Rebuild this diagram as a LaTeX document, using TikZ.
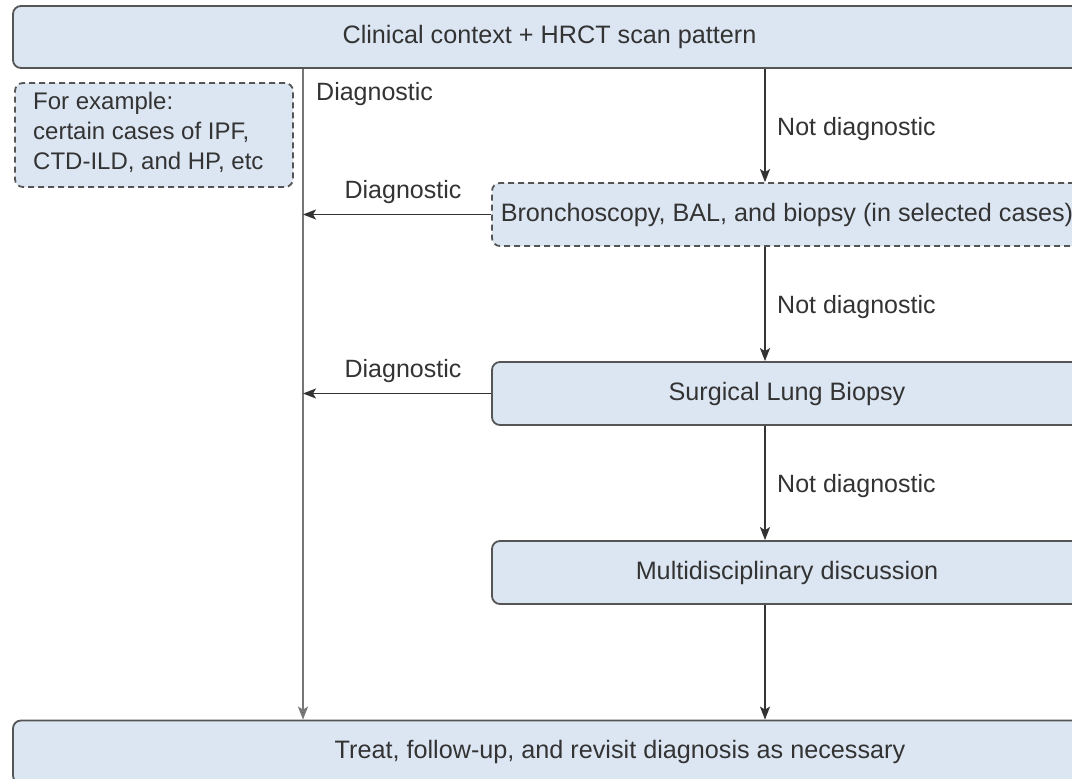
\documentclass[tikz,border=0pt]{standalone}
\usepackage{fontspec}
\setmainfont{Liberation Sans}
\usetikzlibrary{arrows.meta}
\definecolor{boxfill}{HTML}{DCE6F2}
\definecolor{boxline}{HTML}{555555}
\definecolor{txt}{HTML}{333333}
\definecolor{conncol}{HTML}{333333}
\definecolor{leftcol}{HTML}{777777}
\begin{document}
\begin{tikzpicture}[x=1pt,y=-1pt,
  box/.style={draw=boxline, line width=1.8pt, fill=boxfill, rounded corners=8pt, inner sep=0pt, text=txt, font=\fontsize{25.2}{30}\selectfont},
  dbox/.style={box, dash pattern=on 6pt off 4pt},
  lbl/.style={text=txt, font=\fontsize{25}{30}\selectfont, inner sep=0pt},
  conn/.style={draw=conncol, line width=1.5pt, -{Stealth[length=13pt,width=10pt,inset=3pt]}},
  lconn/.style={draw=leftcol, line width=2.2pt, -{Stealth[length=13pt,width=10pt,inset=3pt,fill=conncol]}}]
\useasboundingbox (0,0) rectangle (1072,779);
\clip (0,0) rectangle (1072,779);
% boxes
\node[box, minimum width=1073pt, minimum height=62pt] (top) at (549.5,37) {Clinical context + HRCT scan pattern};
\node[dbox, minimum width=278pt, minimum height=104pt] (ex) at (154,135) {};
\node[lbl, align=left, anchor=north west, font=\fontsize{24}{30}\selectfont] (extext) at (33,91.5) {For example:\\certain cases of IPF,\\CTD-ILD, and HP, etc};
\node[dbox, minimum width=590pt, minimum height=63pt] (bronch) at (787,214.5) {Bronchoscopy, BAL, and biopsy (in selected cases)};
\node[box, minimum width=590pt, minimum height=63pt] (slb) at (787,393.5) {Surgical Lung Biopsy};
\node[box, minimum width=590pt, minimum height=63pt] (mdd) at (787,572.5) {Multidisciplinary discussion};
\node[box, minimum width=1214pt, minimum height=63pt] (bot) at (620,752) {Treat, follow-up, and revisit diagnosis as necessary};
% coordinates for the vertical lines
\coordinate (lx) at (303,0);
\coordinate (rx) at (765,0);
% connectors
\draw[lconn] (top.south -| lx) -- (bot.north -| lx);
\draw[conn] (top.south -| rx) -- (bronch.north -| rx);
\draw[conn] (bronch.south -| rx) -- (slb.north -| rx);
\draw[conn] (slb.south -| rx) -- (mdd.north -| rx);
\draw[conn] (mdd.south -| rx) -- (bot.north -| rx);
\draw[conn] (bronch.west) -- (bronch.west -| lx);
\draw[conn] (slb.west) -- (slb.west -| lx);
% labels
\node[lbl, anchor=base west] (d0) at (316,100) {Diagnostic};
\node[lbl, anchor=base] (d1) at (403,198) {Diagnostic};
\node[lbl, anchor=base] (d2) at (403,377) {Diagnostic};
\node[lbl, anchor=base west] (n1) at (777,135) {Not diagnostic};
\node[lbl, anchor=base west] (n2) at (777,313) {Not diagnostic};
\node[lbl, anchor=base west] (n3) at (777,492) {Not diagnostic};
\end{tikzpicture}
\end{document}
